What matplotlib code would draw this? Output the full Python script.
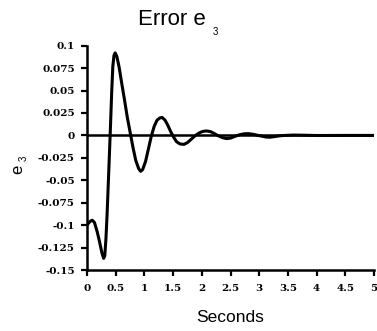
import matplotlib
matplotlib.use("Agg")
import matplotlib.pyplot as plt

# values
t_sec = [0.00, 0.05, 0.09, 0.13, 0.18, 0.22, 0.26, 0.29, 0.31, 0.33,
         0.35, 0.37, 0.39, 0.41, 0.43, 0.45, 0.47, 0.49, 0.52, 0.56,
         0.60, 0.65, 0.70, 0.75, 0.80, 0.85, 0.90, 0.935, 0.97, 1.02,
         1.07, 1.12, 1.17, 1.22, 1.27, 1.31, 1.36, 1.41, 1.46, 1.51,
         1.56, 1.62, 1.69, 1.75, 1.82, 1.89, 1.96, 2.02, 2.08, 2.15,
         2.22, 2.29, 2.36, 2.43, 2.50, 2.58, 2.66, 2.74, 2.81, 2.90,
         2.98, 3.06, 3.12, 3.19, 3.28, 3.36, 3.45, 3.60, 3.80, 4.00,
         4.50, 5.00]
e3_vals = [-0.100, -0.096, -0.0945, -0.097, -0.108, -0.119, -0.131, -0.137, -0.134, -0.115,
           -0.088, -0.055, -0.022, 0.012, 0.048, 0.077, 0.089, 0.092, 0.088, 0.076,
           0.060, 0.041, 0.021, 0.004, -0.013, -0.028, -0.037, -0.040, -0.038, -0.029,
           -0.015, -0.001, 0.010, 0.017, 0.0195, 0.020, 0.017, 0.011, 0.004, -0.002,
           -0.007, -0.0095, -0.010, -0.008, -0.004, 0.000, 0.003, 0.0045, 0.005, 0.0043,
           0.002, -0.0005, -0.0025, -0.0035, -0.003, -0.001, 0.0008, 0.0018, 0.002, 0.0012,
           0.000, -0.001, -0.0018, -0.002, -0.0012, -0.0004, 0.000, 0.0004, 0.0002, -0.0001,
           0.0, 0.0]

x_ticks = [0, 0.5, 1, 1.5, 2, 2.5, 3, 3.5, 4, 4.5, 5]
x_labels = ["0", "0.5", "1", "1.5", "2", "2.5", "3", "3.5", "4", "4.5", "5"]
y_ticks = [0.1, 0.075, 0.05, 0.025, 0, -0.025, -0.05, -0.075, -0.1, -0.125, -0.15]
y_labels = ["0.1", "0.075", "0.05", "0.025", "0", "-0.025", "-0.05", "-0.075", "-0.1", "-0.125", "-0.15"]

W, H = 377, 331
fig = plt.figure(figsize=(W / 100, H / 100), dpi=100)
ax = fig.add_axes([87 / W, 1 - 270 / H, (374 - 87) / W, (270 - 45.7) / H])

ax.axhline(0, color="black", lw=1.8, zorder=2)
ax.plot(t_sec, e3_vals, color="black", lw=2.2, zorder=3)

ax.set_xlim(0, 5)
ax.set_ylim(-0.15, 0.1)
for s in ["top", "right"]:
    ax.spines[s].set_visible(False)
for s in ["left", "bottom"]:
    ax.spines[s].set_linewidth(1.8)

ax.set_xticks(x_ticks)
ax.set_xticklabels(x_labels)
ax.set_yticks(y_ticks)
ax.set_yticklabels(y_labels)
ax.tick_params(axis="both", direction="out", length=4.3, width=1.6, color="black")
ax.tick_params(axis="x", pad=6)
ax.tick_params(axis="y", pad=4.5)
for lbl in ax.get_xticklabels() + ax.get_yticklabels():
    lbl.set_fontfamily("DejaVu Serif")
    lbl.set_fontweight("bold")
    lbl.set_fontsize(7.5)

ax.set_xlabel("Seconds", family="Liberation Sans", fontsize=12.5, labelpad=12)

# title and y label with a small subscript 3
fig.text(138 / W, 1 - 25 / H, "Error e", family="Liberation Sans", fontsize=16,
         ha="left", va="baseline")
fig.text(213 / W, 1 - 35 / H, "3", family="Liberation Sans", fontsize=7,
         ha="left", va="baseline")
fig.text(22 / W, 1 - 174 / H, "e", family="Liberation Sans", fontsize=12,
         rotation=90, rotation_mode="anchor", ha="left", va="baseline")
fig.text(27 / W, 1 - 161 / H, "3", family="Liberation Sans", fontsize=7,
         rotation=90, rotation_mode="anchor", ha="left", va="baseline")

fig.savefig("out.png", dpi=100, facecolor="white")
